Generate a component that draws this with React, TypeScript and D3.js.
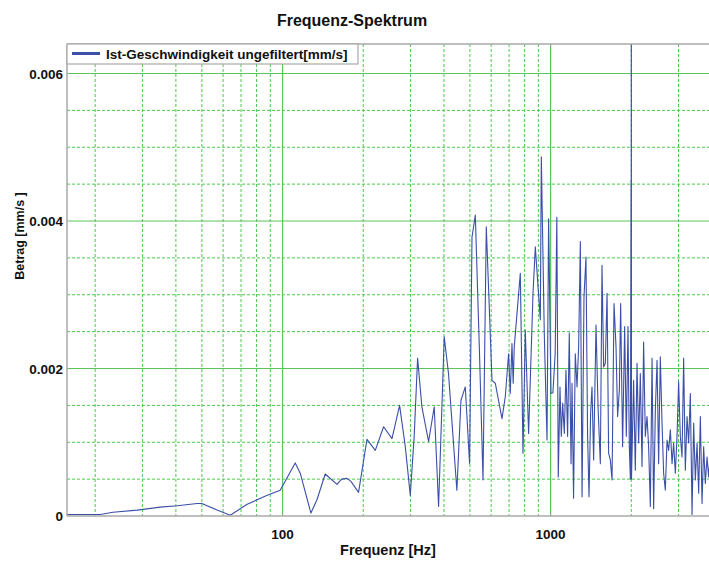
import { useEffect, useRef } from "react";
import * as d3 from "d3";

const W = 709;
const H = 565;

// spectrum: [frequency Hz, amplitude mm/s]
const lowBand: [number, number][] = [
  [15.7, 0.00002], [20.9, 0.00002], [23.3, 0.00005], [28.7, 0.00008], [35, 0.00012],
  [40.5, 0.00014], [48, 0.00017], [50, 0.00017], [57, 0.00008], [63.8, 0.00001],
  [73.8, 0.00016], [87.7, 0.00028], [98, 0.00035], [111.5, 0.00072], [116.4, 0.00058],
  [127.6, 0.00004], [134.4, 0.00022], [144.3, 0.00057], [159.6, 0.00043], [166, 0.0005],
  [173.9, 0.00051], [180, 0.00047], [192.1, 0.00032],
];

const midBand: [number, number][] = [
  [206.5, 0.00104], [221.8, 0.00089], [238.2, 0.00121], [256, 0.00105], [273.3, 0.0015],
  [287, 0.00094], [299.6, 0.00028], [310, 0.0011], [319, 0.00214], [331, 0.00148],
  [350.6, 0.00101], [368, 0.00148], [382, 0.00013], [401, 0.00243], [416, 0.00193],
  [447, 0.00035], [463, 0.00157], [480.5, 0.00175], [498.6, 0.00071], [509, 0.00378],
  [523.7, 0.00408], [543, 0.0022], [559.5, 0.00049], [575.5, 0.00392], [604.4, 0.00184],
  [621.8, 0.0018], [658.6, 0.00132], [677.6, 0.00162], [697, 0.0022], [707, 0.00166],
  [717.7, 0.00234], [725, 0.0018], [732, 0.0023], [770.8, 0.00329], [788.9, 0.00085],
  [804.6, 0.00252], [827.8, 0.00112], [859.7, 0.00302], [876.9, 0.00365], [915.4, 0.00266],
  [923.3, 0.00487], [947, 0.00248], [969.6, 0.00103], [983, 0.00403], [1003, 0.00166],
  [1020, 0.00167], [1040, 0.0022], [1055, 0.00405], [1068, 0.00053],
];

const highBand: [number, number][] = [
  [1084, 0.00175], [1096, 0.00108], [1109, 0.00153], [1125, 0.00112], [1141, 0.00198],
  [1157, 0.00108], [1174, 0.00248], [1192, 0.00071], [1202, 0.0018], [1218, 0.00024],
  [1236, 0.0022], [1255, 0.00175], [1272, 0.00229], [1291, 0.00372], [1310, 0.00026],
  [1332, 0.00297], [1355, 0.00351], [1374, 0.00108], [1391, 0.00026], [1410, 0.00139],
  [1427, 0.00175], [1447, 0.00076], [1477, 0.00259], [1503, 0.00148], [1533, 0.00071],
  [1555, 0.0034], [1577, 0.00202], [1600, 0.00207], [1624, 0.00302], [1646, 0.00085],
  [1670, 0.00076], [1695, 0.00049], [1724, 0.00288], [1754, 0.00229], [1778, 0.00135],
  [1805, 0.00171], [1825, 0.00288], [1856, 0.00094], [1889, 0.00257], [1916, 0.00108],
  [1944, 0.00257], [1966, 0.00094], [1984, 0.0005], [1996, 0.00455], [1998, 0.0006],
  [2000, 0.0075], [2003, 0.0005], [2040, 0.00184], [2070, 0.00062], [2101, 0.00207],
  [2130, 0.00099], [2161, 0.00193], [2193, 0.00067], [2223, 0.00236], [2256, 0.00108],
  [2289, 0.00135], [2321, 0.00094], [2355, 0.00013], [2390, 0.00214], [2423, 0.0001],
  [2459, 0.00144], [2495, 0.00211], [2529, 0.00071], [2566, 0.00216], [2604, 0.00126],
  [2640, 0.00058], [2679, 0.00035], [2718, 0.00103], [2756, 0.00089], [2797, 0.00117],
  [2838, 0.00071], [2877, 0.00099], [2919, 0.00058], [2962, 0.00108], [3003, 0.00182],
  [3047, 0.00108], [3092, 0.0008], [3135, 0.00214], [3181, 0.00062], [3228, 0.00135],
  [3273, 0.00099], [3321, 0.00166], [3370, 0.00002], [3417, 0.00126], [3467, 0.00049],
  [3518, 0.00099], [3567, 0.00031], [3619, 0.00135], [3672, 0.00017], [3723, 0.00094],
  [3777, 0.00044], [3833, 0.0008], [3886, 0.00053], [3950, 0.0009],
];

const yMajor = [0.002, 0.004, 0.006];
const yMinor = [0.0005, 0.001, 0.0015, 0.0025, 0.003, 0.0035, 0.0045, 0.005, 0.0055];
const yTickLabels = ["0", "0.002", "0.004", "0.006"];
const xMajor = [100, 1000];
const xMinor = [20, 30, 40, 50, 60, 70, 80, 90, 200, 300, 400, 500, 600, 700, 800, 900, 2000, 3000];
const xTickLabels = ["100", "1000"];

const FONT = "'Liberation Sans', Arial, sans-serif";

export default function App() {
  const ref = useRef<SVGSVGElement | null>(null);

  useEffect(() => {
    if (!ref.current) return;
    const svg = d3.select(ref.current);
    svg.selectAll("*").remove();

    const left = 67, top = 44, bottom = 516, right = 712;
    const x = d3.scaleLog().domain([15.7, 4000]).range([left, right]);
    const y = d3.scaleLinear().domain([0, 0.0064]).range([bottom, top]);

    svg.append("defs").append("clipPath").attr("id", "plot-clip")
      .append("rect").attr("x", left).attr("y", top).attr("width", right - left).attr("height", bottom - top);

    // grid
    const grid = svg.append("g");
    grid.selectAll("line.ym").data(yMinor).join("line")
      .attr("x1", left).attr("x2", right).attr("y1", (d) => y(d)).attr("y2", (d) => y(d))
      .attr("stroke", "#4cc84c").attr("stroke-width", 1).attr("stroke-dasharray", "3,2");
    grid.selectAll("line.xm").data(xMinor).join("line")
      .attr("x1", (d) => x(d)).attr("x2", (d) => x(d)).attr("y1", top).attr("y2", bottom)
      .attr("stroke", "#4cc84c").attr("stroke-width", 1).attr("stroke-dasharray", "3,2");
    grid.append("g").selectAll("line").data(yMajor).join("line")
      .attr("x1", left).attr("x2", right).attr("y1", (d) => y(d)).attr("y2", (d) => y(d))
      .attr("stroke", "#5cc45c").attr("stroke-width", 1.2);
    grid.append("g").selectAll("line").data(xMajor).join("line")
      .attr("x1", (d) => x(d)).attr("x2", (d) => x(d)).attr("y1", top).attr("y2", bottom)
      .attr("stroke", "#5cc45c").attr("stroke-width", 1.2);

    // spectrum
    const data = [...lowBand, ...midBand, ...highBand];
    const line = d3.line<[number, number]>().x((d) => x(d[0])).y((d) => y(d[1]));
    svg.append("path").datum(data).attr("d", line).attr("clip-path", "url(#plot-clip)")
      .attr("fill", "none").attr("stroke", "#3b4fa8").attr("stroke-width", 1.1)
      .attr("stroke-linejoin", "round");

    // frame
    svg.append("line").attr("x1", left).attr("x2", W).attr("y1", top).attr("y2", top)
      .attr("stroke", "#a8a8a8").attr("stroke-width", 1.5);
    svg.append("line").attr("x1", left).attr("x2", left).attr("y1", top).attr("y2", bottom)
      .attr("stroke", "#a8a8a8").attr("stroke-width", 1.5);
    svg.append("line").attr("x1", left).attr("x2", W).attr("y1", bottom).attr("y2", bottom)
      .attr("stroke", "#a8a8a8").attr("stroke-width", 1.5);

    // ticks
    svg.append("g").selectAll("text").data([0, ...yMajor]).join("text")
      .attr("x", 63).attr("y", (d) => y(d) + 5).attr("text-anchor", "end")
      .attr("font-family", FONT).attr("font-weight", "bold").attr("font-size", 13.5).attr("fill", "#111")
      .text((_, i) => yTickLabels[i]);
    svg.append("g").selectAll("text").data(xMajor).join("text")
      .attr("x", (d) => x(d)).attr("y", 539).attr("text-anchor", "middle")
      .attr("font-family", FONT).attr("font-weight", "bold").attr("font-size", 13.5).attr("fill", "#111")
      .text((_, i) => xTickLabels[i]);

    // legend
    const lg = svg.append("g");
    lg.append("rect").attr("x", left).attr("y", top).attr("width", 291).attr("height", 20)
      .attr("fill", "#fff").attr("stroke", "#a8a8a8").attr("stroke-width", 1.2);
    lg.append("line").attr("x1", 72).attr("x2", 100).attr("y1", 53.5).attr("y2", 53.5)
      .attr("stroke", "#3b4fa8").attr("stroke-width", 3);
    lg.append("text").attr("x", 106).attr("y", 58.5)
      .attr("font-family", FONT).attr("font-weight", "bold").attr("font-size", 13.5).attr("fill", "#111")
      .text("Ist-Geschwindigkeit ungefiltert[mm/s]");

    // titles
    svg.append("text").attr("x", 352).attr("y", 26).attr("text-anchor", "middle")
      .attr("font-family", FONT).attr("font-weight", "bold").attr("font-size", 16).attr("fill", "#111")
      .text("Frequenz-Spektrum");
    svg.append("text").attr("x", 388).attr("y", 555).attr("text-anchor", "middle")
      .attr("font-family", FONT).attr("font-weight", "bold").attr("font-size", 14.5).attr("fill", "#111")
      .text("Frequenz [Hz]");
    svg.append("text").attr("transform", "translate(24,236) rotate(-90)").attr("text-anchor", "middle")
      .attr("font-family", FONT).attr("font-weight", "bold").attr("font-size", 12.5).attr("fill", "#111")
      .text("Betrag [mm/s ]");
  }, []);

  return (
    <svg
      ref={ref}
      width={W}
      height={H}
      style={{ position: "absolute", left: 0, top: 0, background: "#fff" }}
    />
  );
}
